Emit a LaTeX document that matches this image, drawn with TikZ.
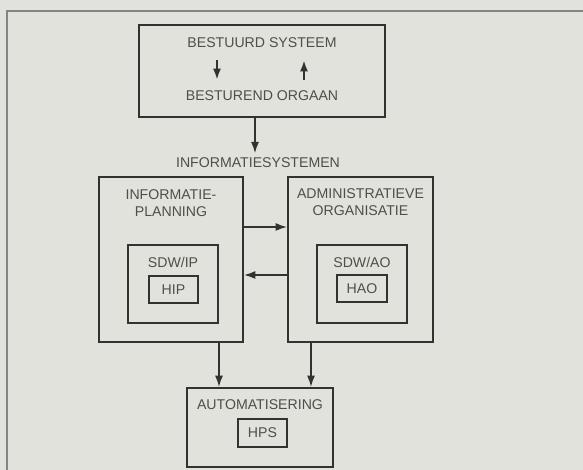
\documentclass[tikz,border=0pt]{standalone}
\usepackage{fontspec}
\setmainfont{Liberation Sans}
\usetikzlibrary{positioning,arrows.meta}
\definecolor{paper}{RGB}{226,226,220}
\definecolor{ink}{RGB}{50,50,48}
\definecolor{print}{RGB}{78,78,74}

\begin{document}
\begin{tikzpicture}[x=0.75pt,y=-0.75pt]
			\tikzstyle{every node}=[font=\fontsize{10.6}{12.5}\selectfont, text=print];
			\tikzstyle{box}=[draw=ink, line width=1.5pt, inner sep=0pt];
			\tikzstyle{arr}=[draw=ink, line width=1.2pt, -{Latex[length=8.5pt,width=6pt]}];
			
			%Paper and frame
			\fill[paper] (0,0) rectangle (583,470);
			\useasboundingbox (0,0) rectangle (583,470);
			\draw[ink!60, line width=1pt] (7,470) -- (7,11) -- (583,11);
			
			%Top box
			\node[box, minimum width=184.5pt, minimum height=69pt] (stuur) at (262,71) {};
			\node (bestuurd) at (262,43) {BESTUURD SYSTEEM};
			\node (besturend) at (262,96) {BESTUREND ORGAAN};
			\coordinate (dn1) at (217,60);
			\coordinate (dn2) at (217,80);
			\coordinate (up1) at (304,80);
			\coordinate (up2) at (304,60);
			\draw[arr, line width=1.7pt] (dn1) -- (dn2);
			\draw[arr, line width=1.7pt] (up1) -- (up2);
			
			\node (infosys) at (258,163) {INFORMATIESYSTEMEN};
			\draw[arr] (stuur.south -| 255,0) -- (infosys.north -| 255,0);
			
			%Level 2
			\node[box, minimum width=108pt, minimum height=123.75pt] (ip) at (171,259.5) {};
			\node[align=center] (iptxt) at (171,203) {INFORMATIE-\\PLANNING};
			\node[box, minimum width=67.5pt, minimum height=58.5pt] (sdwip) at (173,284) {};
			\node (sdwiptxt) at (173,262) {SDW/IP};
			\node[box, minimum width=36.75pt, minimum height=20.25pt] (hip) at (173.5,289.5) {HIP};
			
			\node[box, minimum width=108.75pt, minimum height=123.75pt] (ao) at (360.5,259.5) {};
			\node[align=center] (aotxt) at (360.5,202) {ADMINISTRATIEVE\\ORGANISATIE};
			\node[box, minimum width=67.5pt, minimum height=58.5pt] (sdwao) at (362,284) {};
			\node (sdwaotxt) at (362,262) {SDW/AO};
			\node[box, minimum width=37.5pt, minimum height=20.25pt] (hao) at (362,288.5) {HAO};
			
			%Lines
			\draw[arr] (ip.east |- 0,227) -- (ao.west |- 0,227);
			\draw[arr] (ao.west |- 0,275) -- (ip.east |- 0,275);
			
			%Level 3
			\node[box, minimum width=109.5pt, minimum height=59.25pt] (auto) at (260,427.5) {};
			\node (autotxt) at (260,405) {AUTOMATISERING};
			\node[box, minimum width=36.75pt, minimum height=21pt] (hps) at (262.5,433) {HPS};
			
			\draw[arr] (ip.south -| 219,0) -- (auto.north -| 219,0);
			\draw[arr] (ao.south -| 311,0) -- (auto.north -| 311,0);
			\end{tikzpicture}
\end{document}
